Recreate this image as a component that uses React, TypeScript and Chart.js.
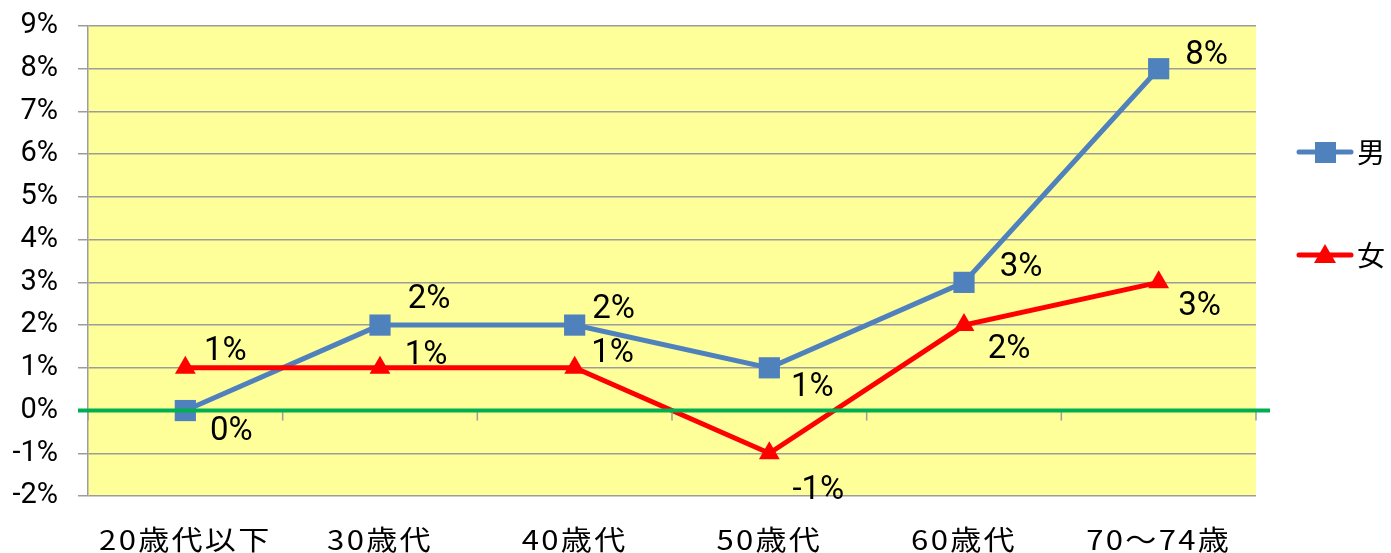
import React, { useEffect, useRef } from "react";
import { Chart, registerables } from "chart.js";

Chart.register(...registerables);

// Age groups on the horizontal axis
const categories = ["20歳代以下", "30歳代", "40歳代", "50歳代", "60歳代", "70～74歳"];
// Series names
const seriesNames = ["男", "女"];
// Change rates in percent
const maleValues = [0, 2, 2, 1, 3, 8];
const femaleValues = [1, 1, 1, -1, 2, 3];
// Vertical axis tick values (percent)
const yTickValues = [-2, -1, 0, 1, 2, 3, 4, 5, 6, 7, 8, 9];

// Styling
const MALE_COLOR = "#4f81bd";
const FEMALE_COLOR = "#ff0000";
const ZERO_COLOR = "#00b050";
const GRID_COLOR = "#9c9c9c";
const PLOT_BG = "#ffff99";

// Pixel offsets of each value label from its point
const maleLabelOffsets = [[46, 21], [49, -25], [39, -15], [43, 20], [57, -15], [48, -13]];
const femaleLabelOffsets = [[40, -16], [46, -12], [38, -14], [49, 37], [45, 25], [41, 24]];

const decorPlugin = {
  id: "decor",
  beforeDraw(chart: any) {
    const { ctx, chartArea: a } = chart;
    ctx.save();
    ctx.fillStyle = PLOT_BG;
    ctx.fillRect(a.left, a.top, a.right - a.left, a.bottom - a.top);
    ctx.restore();
  },
  afterDatasetsDraw(chart: any) {
    const { ctx, chartArea: a } = chart;
    const xs = chart.scales.x;
    const ys = chart.scales.y;
    const y0 = ys.getPixelForValue(0);
    const step = xs.getPixelForValue(1) - xs.getPixelForValue(0);
    ctx.save();
    // category tick marks hanging from the zero axis
    ctx.strokeStyle = GRID_COLOR;
    ctx.lineWidth = 1.5;
    for (let i = 0; i <= categories.length; i++) {
      const bx = xs.getPixelForValue(0) - step / 2 + i * step;
      ctx.beginPath();
      ctx.moveTo(bx, y0);
      ctx.lineTo(bx, y0 + 10);
      ctx.stroke();
    }
    // zero line
    ctx.strokeStyle = ZERO_COLOR;
    ctx.lineWidth = 4;
    ctx.beginPath();
    ctx.moveTo(a.left - 10, y0);
    ctx.lineTo(a.right + 14, y0);
    ctx.stroke();
    ctx.restore();
  },
  afterDraw(chart: any) {
    const { ctx } = chart;
    const xs = chart.scales.x;
    ctx.save();

    // value labels
    ctx.fillStyle = "#000";
    ctx.font = "33px Roboto";
    ctx.textAlign = "center";
    ctx.textBaseline = "middle";
    const offsets = [maleLabelOffsets, femaleLabelOffsets];
    chart.data.datasets.forEach((ds: any, di: number) => {
      const meta = chart.getDatasetMeta(di);
      meta.data.forEach((pt: any, i: number) => {
        const [dx, dy] = offsets[di][i];
        ctx.fillText(`${ds.data[i]}%`, pt.x + dx, pt.y + dy);
      });
    });

    // category labels
    ctx.font = "27px 'Noto Sans CJK JP'";
    (ctx as any).letterSpacing = "2px";
    categories.forEach((label, i) => {
      ctx.save();
      ctx.translate(xs.getPixelForValue(i), 540);
      ctx.scale(1.15, 1);
      ctx.fillText(label, 0, 0);
      ctx.restore();
    });
    (ctx as any).letterSpacing = "0px";

    // legend
    const rows = [152, 255];
    chart.data.datasets.forEach((ds: any, di: number) => {
      const y = rows[di];
      ctx.strokeStyle = ds.borderColor;
      ctx.lineWidth = 5;
      ctx.lineCap = "round";
      ctx.beginPath();
      ctx.moveTo(1299, y);
      ctx.lineTo(1351, y);
      ctx.stroke();
      ctx.fillStyle = ds.backgroundColor;
      if (ds.pointStyle === "rect") {
        ctx.fillRect(1315, y - 10, 21, 21);
      } else {
        ctx.beginPath();
        ctx.moveTo(1325, y - 11);
        ctx.lineTo(1336, y + 8);
        ctx.lineTo(1314, y + 8);
        ctx.closePath();
        ctx.fill();
      }
      ctx.fillStyle = "#000";
      ctx.font = "28px 'Noto Sans CJK JP'";
      ctx.textAlign = "left";
      ctx.fillText(ds.label, 1357, y);
    });

    ctx.restore();
  },
};

export default function App() {
  const canvasRef = useRef<HTMLCanvasElement | null>(null);

  useEffect(() => {
    const canvas = canvasRef.current;
    if (!canvas) return;
    const chart = new Chart(canvas, {
      type: "line",
      data: {
        labels: categories,
        datasets: [
          {
            label: seriesNames[0],
            data: maleValues,
            borderColor: MALE_COLOR,
            backgroundColor: MALE_COLOR,
            borderWidth: 5,
            pointStyle: "rect",
            pointRadius: 15,
            pointHoverRadius: 15,
            pointBorderWidth: 0,
            tension: 0,
            order: 1,
          },
          {
            label: seriesNames[1],
            data: femaleValues,
            borderColor: FEMALE_COLOR,
            backgroundColor: FEMALE_COLOR,
            borderWidth: 5,
            pointStyle: "triangle",
            pointRadius: 12,
            pointHoverRadius: 12,
            pointBorderWidth: 0,
            tension: 0,
            order: 0,
          },
        ],
      },
      options: {
        animation: false,
        responsive: false,
        events: [],
        layout: { padding: { top: 26, right: 135, left: 0, bottom: 0 } },
        plugins: {
          legend: { display: false },
          tooltip: { enabled: false },
        },
        scales: {
          x: {
            type: "category",
            offset: true,
            grid: { display: false },
            border: { display: false },
            ticks: { display: false },
            afterFit: (s: any) => {
              s.height = 57;
            },
          },
          y: {
            min: yTickValues[0],
            max: yTickValues[yTickValues.length - 1],
            afterBuildTicks: (s: any) => {
              s.ticks = yTickValues.map((v) => ({ value: v }));
            },
            ticks: {
              callback: (v: any) => `${v}%`,
              color: "#000",
              font: { family: "Roboto", size: 29 },
              padding: 20,
            },
            grid: { color: GRID_COLOR, lineWidth: 1.5, tickLength: 10, drawTicks: true },
            border: { display: true, color: GRID_COLOR, width: 1.5 },
            afterFit: (s: any) => {
              s.width = 88;
              s.paddingTop = 0;
              s.paddingBottom = 0;
            },
          },
        },
      },
      plugins: [decorPlugin],
    });
    return () => chart.destroy();
  }, []);

  return (
    <div style={{ position: "absolute", left: 0, top: 0, width: 1391, height: 553, background: "#fff" }}>
      <canvas ref={canvasRef} width={1391} height={553} style={{ display: "block" }} />
    </div>
  );
}
